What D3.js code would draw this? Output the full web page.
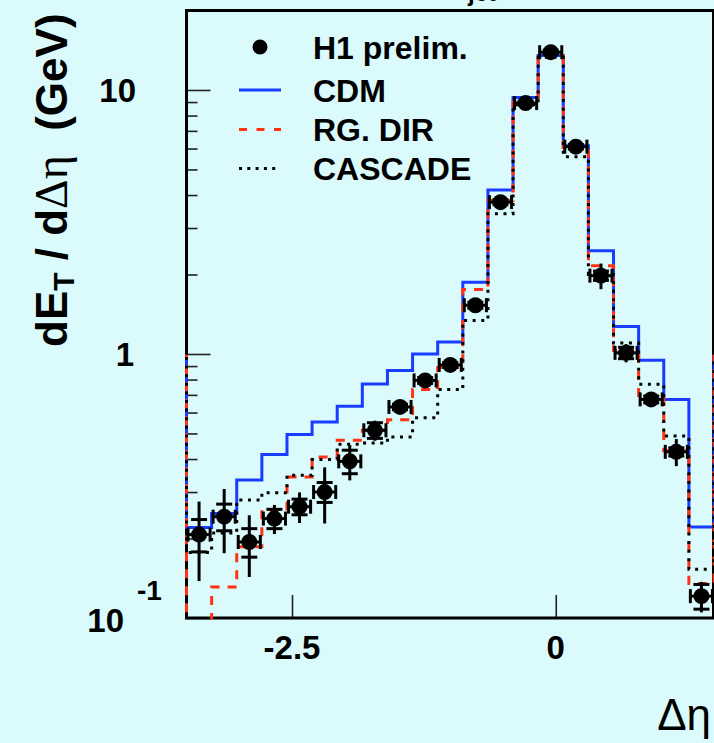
<!DOCTYPE html>
<html>
<head>
<meta charset="utf-8">
<script src="https://cdn.jsdelivr.net/npm/d3@7"></script>
<style>
  html, body { margin: 0; padding: 0; background: #dafafc; }
  svg { display: block; }
  text { font-family: "Liberation Sans", Arial, Helvetica, sans-serif; }
</style>
</head>
<body>
<svg id="chart" width="714" height="743"></svg>
<script>
// Transverse energy flow around the jet axis, dE_T/dΔη (GeV)
const etaLo = -3.5, etaHi = 1.5, nBins = 21;

// H1 preliminary data: value, statistical and total error per bin
const h1Value = [0.207, 0.242, 0.194, 0.238, 0.264, 0.300, 0.392, 0.514, 0.630, 0.794, 0.909,
                 1.53, 3.76, 8.92, 13.9, 6.10, 1.98, 1.01, 0.673, 0.426, 0.121];
const h1Stat  = [0.029, 0.028, 0.024, 0.020, 0.018, 0.026, 0.040, 0.035, 0.015, 0.020, 0.020,
                 0.040, 0.08, 0.15, 0.25, 0.12, 0.08, 0.05, 0.02, 0.015, 0.013];
const h1Total = [0.069, 0.066, 0.051, 0.030, 0.035, 0.072, 0.060, 0.045, 0.020, 0.025, 0.030,
                 0.05, 0.10, 0.20, 0.30, 0.15, 0.22, 0.08, 0.025, 0.05, 0.016];

// Model predictions per bin
const cdm     = [0.220, 0.249, 0.333, 0.416, 0.496, 0.552, 0.634, 0.770, 0.866, 1.00, 1.11,
                 1.87, 4.18, 9.37, 13.5, 6.15, 2.46, 1.27, 0.946, 0.672, 0.221];
const rgDir   = [0.06, 0.131, 0.186, 0.256, 0.342, 0.407, 0.471, 0.514, 0.564, 0.733, 0.889,
                 1.755, 3.81, 9.00, 13.5, 6.05, 2.16, 1.03, 0.675, 0.43, 0.135];
const cascade = [0.177, 0.21, 0.28, 0.298, 0.347, 0.398, 0.455, 0.46, 0.485, 0.574, 0.733,
                 1.34, 3.40, 8.8, 13.3, 5.59, 2.0, 1.10, 0.768, 0.489, 0.153];
// neighbouring bins just outside the drawn range (left, right)
const cdmOutside     = [0.98, 0.98];
const rgDirOutside   = [0.98, 0.98];
const cascadeOutside = [0.98, 0.98];

const yMajorTicks = [0.1, 1, 10];
const xMajorTicks = [-2.5, 0];
const xTickLabels = ["-2.5", "0"];

const legendLabels = ["H1 prelim.", "CDM", "RG. DIR", "CASCADE"];

const blue = "#1a3cff", red = "#ff3214";

const svg = d3.select("#chart");
svg.append("rect").attr("width", 714).attr("height", 743).attr("fill", "#dafafc");

const frame = {l: 186.5, r: 714, t: 10.5, b: 618};
const x = d3.scaleLinear().domain([etaLo, etaHi]).range([frame.l, frame.r]);
const y = d3.scaleLog().domain([0.1, 20]).range([frame.b, frame.t]);

const binW = (etaHi - etaLo) / nBins;
const edges = d3.range(nBins + 1).map(i => etaLo + i * binW);
const centers = d3.range(nBins).map(i => etaLo + (i + 0.5) * binW);

// axis ticks drawn inside the frame
const minor = [];
[0.1, 1, 10].forEach(d => { for (let k = 2; k <= 9; k++) minor.push(d * k); });
const yMinor = minor.filter(v => v < 20);

const gyMin = svg.append("g").attr("transform", `translate(${frame.l},0)`)
  .call(d3.axisRight(y).tickValues(yMinor).tickSize(11).tickFormat(""));
const gyMaj = svg.append("g").attr("transform", `translate(${frame.l},0)`)
  .call(d3.axisRight(y).tickValues(yMajorTicks).tickSize(24).tickFormat(""));
const gx = svg.append("g").attr("transform", `translate(0,${frame.b})`)
  .call(d3.axisTop(x).tickValues(xMajorTicks).tickSize(23).tickFormat(""));
[gyMin, gyMaj, gx].forEach(g => {
  g.select(".domain").remove();
  g.selectAll("line").attr("stroke", "#222").attr("stroke-width", 1.6);
});

// frame
svg.append("path")
  .attr("d", `M${frame.l},${frame.b}V${frame.t}H${frame.r + 3}M${frame.l - 1.5},${frame.b}H${frame.r + 3}`)
  .attr("fill", "none").attr("stroke", "#000").attr("stroke-width", 3);
svg.append("line").attr("x1", frame.r - 1).attr("x2", frame.r - 1)
  .attr("y1", frame.t).attr("y2", frame.b)
  .attr("stroke", "#000").attr("stroke-width", 2);

// tick labels
const lab = svg.append("g").attr("font-weight", "bold").attr("fill", "#000");
lab.append("text").attr("x", 136).attr("y", y(10) + 12.5).attr("text-anchor", "end")
  .attr("font-size", 33).text("10");
lab.append("text").attr("x", 134).attr("y", y(1) + 12.5).attr("text-anchor", "end")
  .attr("font-size", 33).text("1");
lab.append("text").attr("x", 124).attr("y", y(0.1) + 13.5).attr("text-anchor", "end")
  .attr("font-size", 33).text("10");
lab.append("text").attr("x", 137).attr("y", y(0.1) - 18).attr("text-anchor", "start")
  .attr("font-size", 28).text("-1");
xMajorTicks.forEach((v, i) => {
  lab.append("text").attr("x", x(v)).attr("y", frame.b + 41).attr("text-anchor", "middle")
    .attr("font-size", 33).text(xTickLabels[i]);
});

// axis titles
svg.append("text").attr("x", 711).attr("y", 730).attr("text-anchor", "end")
  .attr("font-family", "'Liberation Serif', 'Times New Roman', serif")
  .attr("font-size", 44).text("Δη");

const yt = svg.append("text")
  .attr("transform", "translate(67,347) rotate(-90)")
  .attr("font-weight", "bold").attr("font-size", 44)
  .style("white-space", "pre");
yt.append("tspan").text("dE");
yt.append("tspan").attr("font-size", 30).attr("dy", 7).text("T");
yt.append("tspan").attr("dy", -7).text(" / d");
yt.append("tspan").attr("font-family", "'Liberation Serif', 'Times New Roman', serif")
  .attr("font-weight", "normal").attr("font-size", 46).text("Δη");
yt.append("tspan").text("  (GeV)");

// title fragment at the top edge
svg.append("text").attr("x", 468).attr("y", 1).attr("font-weight", "bold")
  .attr("font-size", 24).text("jet");

// model histograms, clipped to the frame
svg.append("clipPath").attr("id", "plotclip").append("rect")
  .attr("x", frame.l - 1.5).attr("y", frame.t).attr("width", frame.r - frame.l + 3)
  .attr("height", frame.b - frame.t + 1.5);

function stepPath(vals, outside) {
  const ext = [outside[0], ...vals, outside[1]];
  const e = [etaLo - binW, ...edges, etaHi + binW];
  let d = "";
  ext.forEach((v, i) => {
    const yy = y(v), x0 = x(e[i]), x1 = x(e[i + 1]);
    d += (i === 0 ? `M${x0},${yy}` : `V${yy}`) + `H${x1}`;
  });
  return d;
}
const hg = svg.append("g").attr("clip-path", "url(#plotclip)").attr("fill", "none");
hg.append("path").attr("d", stepPath(cdm, cdmOutside))
  .attr("stroke", blue).attr("stroke-width", 3);
hg.append("path").attr("d", stepPath(rgDir, rgDirOutside))
  .attr("stroke", red).attr("stroke-width", 3).attr("stroke-dasharray", "9,8");
hg.append("path").attr("d", stepPath(cascade, cascadeOutside))
  .attr("stroke", "#000").attr("stroke-width", 3).attr("stroke-dasharray", "3,5.6");

// data points with bin-width bars, total errors and stat ticks
const pts = svg.append("g").attr("stroke", "#000").attr("fill", "#000");
centers.forEach((c, i) => {
  const cy = y(h1Value[i]);
  const xl = x(edges[i]) + 1.5, xr = x(edges[i + 1]) - 1.5, cx = x(c);
  pts.append("line").attr("x1", xl).attr("x2", xr).attr("y1", cy).attr("y2", cy).attr("stroke-width", 3);
  pts.append("line").attr("x1", xl).attr("x2", xl).attr("y1", cy - 7).attr("y2", cy + 7).attr("stroke-width", 3);
  pts.append("line").attr("x1", xr).attr("x2", xr).attr("y1", cy - 7).attr("y2", cy + 7).attr("stroke-width", 3);
  pts.append("line").attr("x1", cx).attr("x2", cx)
    .attr("y1", y(h1Value[i] + h1Total[i])).attr("y2", y(h1Value[i] - h1Total[i]))
    .attr("stroke-width", 3);
  [h1Value[i] + h1Stat[i], h1Value[i] - h1Stat[i]].forEach(v => {
    pts.append("line").attr("x1", cx - 8).attr("x2", cx + 8).attr("y1", y(v)).attr("y2", y(v))
      .attr("stroke-width", 3);
  });
  pts.append("circle").attr("cx", cx).attr("cy", cy).attr("r", 8).attr("stroke", "none");
});

// legend
const legRows = [47, 90, 129.5, 168.5];
const lg = svg.append("g");
lg.append("circle").attr("cx", 260).attr("cy", legRows[0]).attr("r", 7.5).attr("fill", "#000");
lg.append("line").attr("x1", 239).attr("x2", 281).attr("y1", legRows[1]).attr("y2", legRows[1])
  .attr("stroke", blue).attr("stroke-width", 3);
lg.append("line").attr("x1", 239).attr("x2", 281).attr("y1", legRows[2]).attr("y2", legRows[2])
  .attr("stroke", red).attr("stroke-width", 3).attr("stroke-dasharray", "8,9.5");
lg.append("line").attr("x1", 239).attr("x2", 278).attr("y1", legRows[3]).attr("y2", legRows[3])
  .attr("stroke", "#000").attr("stroke-width", 3).attr("stroke-dasharray", "3,5.3");
legendLabels.forEach((t, i) => {
  lg.append("text").attr("x", 313).attr("y", legRows[i] + 11.5)
    .attr("font-weight", "bold").attr("font-size", 32).text(t);
});
</script>
</body>
</html>
